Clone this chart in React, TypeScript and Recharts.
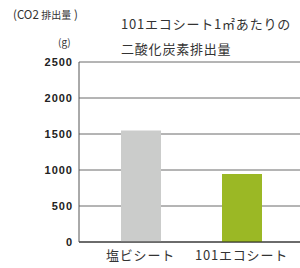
import { Bar, BarChart, CartesianGrid, Cell, XAxis, YAxis } from "recharts";

const categories = ["塩ビシート", "101エコシート"];
const emissions = [1550, 945];
const barColors = ["#cbcccb", "#9bb825"];
const yTicks = [0, 500, 1000, 1500, 2000, 2500];

const titleLines = ["101エコシート1㎡あたりの", "二酸化炭素排出量"];
const unitParts = ["(CO2 ", "排出量", " )"];
const unitSub = "(g)";

const data = categories.map((name, i) => ({ name, value: emissions[i] }));

const jpFont = '"Noto Sans CJK JP", "Noto Sans", sans-serif';

function App() {
  return (
    <div
      style={{
        position: "absolute",
        left: 0,
        top: 0,
        width: 300,
        height: 268,
        background: "#fff",
        fontFamily: jpFont,
        color: "#333",
      }}
    >
      <div style={{ position: "absolute", left: 13, top: 6, fontSize: 11.5, whiteSpace: "nowrap" }}>
        {unitParts[0]}
        <span style={{ fontSize: 10 }}>{unitParts[1]}</span>
        {unitParts[2]}
      </div>
      <div style={{ position: "absolute", left: 58, top: 34, fontSize: 10 }}>{unitSub}</div>
      <div
        style={{
          position: "absolute",
          left: 121,
          top: 11,
          fontSize: 13,
          letterSpacing: 0.8,
          whiteSpace: "nowrap",
          lineHeight: "25px",
        }}
      >
        {titleLines[0]}
        <br />
        {titleLines[1]}
      </div>

      <BarChart
        width={300}
        height={268}
        data={data}
        margin={{ top: 62, right: 0, bottom: 0, left: 0 }}
      >
        <CartesianGrid vertical={false} stroke="#6b6b6b" />
        <XAxis
          dataKey="name"
          height={26}
          padding={{ left: 11, right: 8 }}
          tickLine={false}
          tickSize={0}
          tickMargin={9}
          stroke="#222"
          tick={{ fontSize: 13, fill: "#333", fontFamily: jpFont, letterSpacing: 0.8 }}
        />
        <YAxis
          width={79}
          domain={[0, 2500]}
          ticks={yTicks}
          tickLine={false}
          tickSize={0}
          tickMargin={6}
          stroke="#555"
          tick={{
            fontSize: 11,
            fontWeight: "bold",
            fill: "#222",
            fontFamily: '"Liberation Sans", Arial, sans-serif',
            letterSpacing: 1,
          }}
        />
        <Bar dataKey="value" barSize={40} isAnimationActive={false}>
          {data.map((d, i) => (
            <Cell key={d.name} fill={barColors[i]} />
          ))}
        </Bar>
      </BarChart>
    </div>
  );
}

export default App;
